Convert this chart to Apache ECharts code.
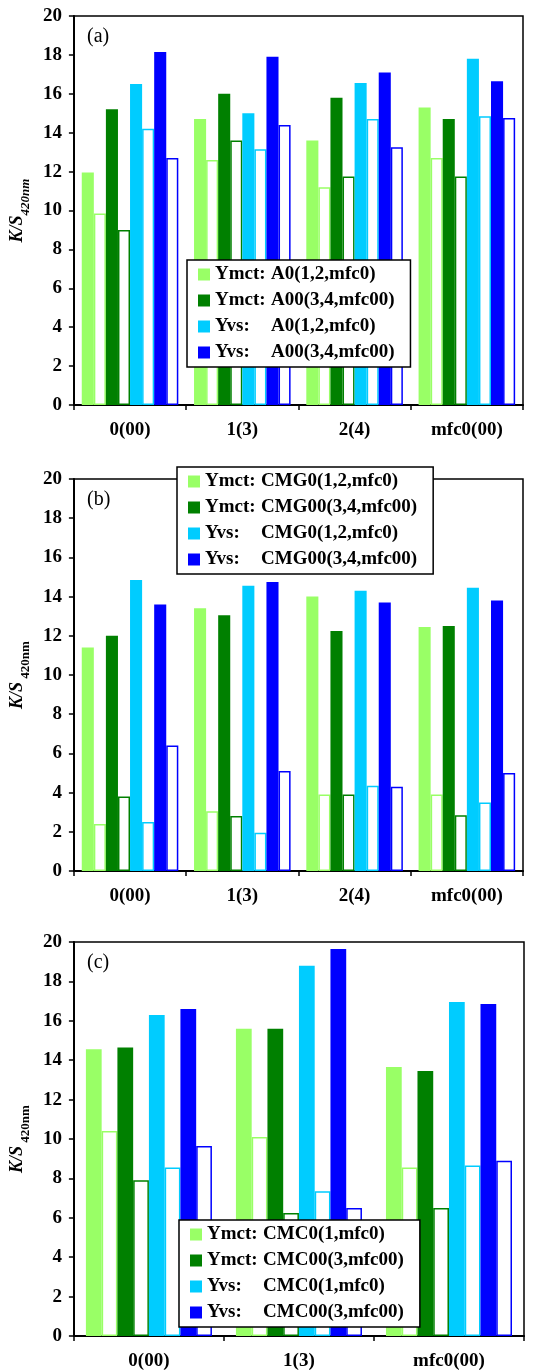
<!DOCTYPE html>
<html>
<head>
<meta charset="utf-8">
<script src="https://cdn.jsdelivr.net/npm/echarts@6/dist/echarts.min.js"></script>
<style>
  html, body { margin: 0; padding: 0; background: #fff; }
  #chart { width: 543px; height: 1372px; }
</style>
</head>
<body>
<div id="chart"></div>
<script>
// categories
const catsAB = ['0(00)', '1(3)', '2(4)', 'mfc0(00)']
const catsC = ['0(00)', '1(3)', 'mfc0(00)']

// panel (a): filled bars + open (hollow) bars
const aYmct0 = [11.95, 14.7, 13.6, 15.3]
const aYmct0Open = [9.85, 12.6, 11.2, 12.7]
const aYmct00 = [15.2, 16.0, 15.8, 14.7]
const aYmct00Open = [9.0, 13.6, 11.75, 11.75]
const aYvs0 = [16.5, 15.0, 16.55, 17.8]
const aYvs0Open = [14.2, 13.15, 14.7, 14.85]
const aYvs00 = [18.15, 17.9, 17.1, 16.65]
const aYvs00Open = [12.7, 14.4, 13.25, 14.75]

// panel (b)
const bYmct0 = [11.4, 13.4, 14.0, 12.45]
const bYmct0Open = [2.4, 3.05, 3.9, 3.9]
const bYmct00 = [12.0, 13.05, 12.25, 12.5]
const bYmct00Open = [3.8, 2.8, 3.9, 2.85]
const bYvs0 = [14.85, 14.55, 14.3, 14.45]
const bYvs0Open = [2.5, 1.95, 4.35, 3.5]
const bYvs00 = [13.6, 14.75, 13.7, 13.8]
const bYvs00Open = [6.4, 5.1, 4.3, 5.0]

// panel (c)
const cYmct0 = [14.55, 15.6, 13.65]
const cYmct0Open = [10.4, 10.1, 8.55]
const cYmct00 = [14.65, 15.6, 13.45]
const cYmct00Open = [7.9, 6.25, 6.5]
const cYvs0 = [16.3, 18.8, 16.95]
const cYvs0Open = [8.55, 7.35, 8.65]
const cYvs00 = [16.6, 19.65, 16.85]
const cYvs00Open = [9.65, 6.5, 8.9]

// legend names
const namesA = ['Ymct: A0(1,2,mfc0)', 'Ymct: A00(3,4,mfc00)', 'Yvs: A0(1,2,mfc0)', 'Yvs: A00(3,4,mfc00)']
const namesB = ['Ymct: CMG0(1,2,mfc0)', 'Ymct: CMG00(3,4,mfc00)', 'Yvs: CMG0(1,2,mfc0)', 'Yvs: CMG00(3,4,mfc00)']
const namesC = ['Ymct: CMC0(1,mfc0)', 'Ymct: CMC00(3,mfc00)', 'Yvs: CMC0(1,mfc0)', 'Yvs: CMC00(3,mfc00)']

const colors = ['#99ff66', '#008000', '#00ccff', '#0000ff']
const FONT = '"Liberation Serif", "Times New Roman", serif'

const panels = [
  { names: namesA, filled: [aYmct0, aYmct00, aYvs0, aYvs00], open: [aYmct0Open, aYmct00Open, aYvs0Open, aYvs00Open], gap: '14%' },
  { names: namesB, filled: [bYmct0, bYmct00, bYvs0, bYvs00], open: [bYmct0Open, bYmct00Open, bYvs0Open, bYvs00Open], gap: '14%' },
  { names: namesC, filled: [cYmct0, cYmct00, cYvs0, cYvs00], open: [cYmct0Open, cYmct00Open, cYvs0Open, cYvs00Open], gap: '16%' }
]

const grids = [
  { left: 73, top: 16, width: 450, height: 389 },
  { left: 73, top: 479, width: 450, height: 392 },
  { left: 73, top: 942, width: 451, height: 394 }
]

const series = []
panels.forEach((p, pi) => {
  p.names.forEach((name, i) => {
    // 实心柱
    series.push({
      type: 'bar',
      name: name,
      xAxisIndex: pi,
      yAxisIndex: pi,
      data: p.filled[i],
      barGap: '0%',
      barCategoryGap: p.gap,
      itemStyle: { color: colors[i] },
      emphasis: { disabled: true }
    })
    // 空心柱
    series.push({
      type: 'bar',
      name: name + ' (open)',
      xAxisIndex: pi,
      yAxisIndex: pi,
      data: p.open[i],
      barGap: '0%',
      barCategoryGap: p.gap,
      itemStyle: { color: '#fff', borderColor: colors[i], borderWidth: 1.5 },
      emphasis: { disabled: true }
    })
  })
})

const yNames = [
  '{k|K/S}{s|420nm}',
  '{k|K/S}{t| 420nm}',
  '{k|K/S}{t| 420nm}'
]

const option = {
  animation: false,
  color: colors,
  title: ['(a)', '(b)', '(c)'].map((t, i) => ({
    text: t,
    left: 82,
    top: grids[i].top + 6,
    textStyle: { fontFamily: FONT, fontWeight: 'normal', fontSize: 20, color: '#000' }
  })),
  grid: grids.map(g => ({ ...g, show: true, borderColor: '#000', borderWidth: 1.5, backgroundColor: 'transparent' })),
  xAxis: [catsAB, catsAB, catsC].map((cats, i) => ({
    type: 'category',
    gridIndex: i,
    data: cats,
    axisLine: { lineStyle: { color: '#000', width: 2 } },
    axisTick: { show: true, length: 5, lineStyle: { color: '#000', width: 1.5 } },
    axisLabel: { color: '#000', fontFamily: FONT, fontWeight: 'bold', fontSize: 19, margin: 16 },
    splitLine: { show: false }
  })),
  yAxis: [0, 1, 2].map(i => ({
    type: 'value',
    gridIndex: i,
    min: 0,
    max: 20,
    interval: 2,
    name: yNames[i],
    nameLocation: 'middle',
    nameGap: 43,
    nameTextStyle: {
      rich: {
        k: { fontFamily: FONT, fontStyle: 'italic', fontWeight: 'bold', fontSize: 18, color: '#000' },
        s: { fontFamily: FONT, fontStyle: 'italic', fontWeight: 'bold', fontSize: 13, color: '#000', verticalAlign: 'bottom', padding: [0, 0, -6, 0] },
        t: { fontFamily: FONT, fontWeight: 'bold', fontSize: 13, color: '#000', verticalAlign: 'bottom', padding: [0, 0, -6, 0] }
      }
    },
    axisLine: { show: true, lineStyle: { color: '#000', width: 2 } },
    axisTick: { show: true, length: 5, lineStyle: { color: '#000', width: 1.5 } },
    axisLabel: { color: '#000', fontFamily: FONT, fontWeight: 'bold', fontSize: 19, margin: 12 },
    splitLine: { show: false }
  })),
  legend: panels.map((p, i) => ({
    data: p.names,
    orient: 'vertical',
    left: [187, 177, 179][i],
    top: [260, 467, 1220][i],
    padding: [5, 16, 5, 11],
    itemWidth: 12,
    itemHeight: 12,
    itemGap: 7,
    icon: 'rect',
    backgroundColor: '#fff',
    borderColor: '#000',
    borderWidth: 1.5,
    selectedMode: false,
    formatter: name => {
      const parts = name.split(': ')
      return `{p|${parts[0]}:}{q|${parts[1]}}`
    },
    textStyle: {
      rich: {
        p: { fontFamily: FONT, fontWeight: 'bold', fontSize: 19, color: '#000', width: 56, lineHeight: 20 },
        q: { fontFamily: FONT, fontWeight: 'bold', fontSize: 19, color: '#000', lineHeight: 20 }
      }
    }
  })),
  series: series
}

const myChart = echarts.init(document.getElementById('chart'))
myChart.setOption(option)
</script>
</body>
</html>
